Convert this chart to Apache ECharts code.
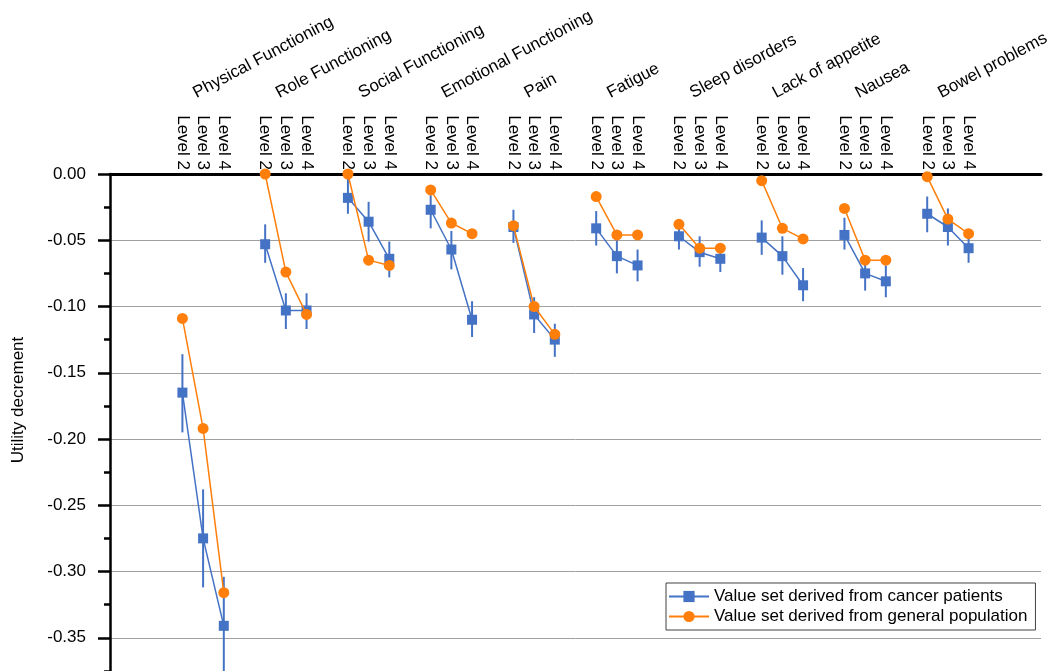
<!DOCTYPE html>
<html>
<head>
<meta charset="utf-8">
<script src="https://cdn.jsdelivr.net/npm/echarts@6/dist/echarts.min.js"></script>
<style>
  html, body { margin: 0; padding: 0; background: #fff; }
  #chart { width: 1049px; height: 671px; }
</style>
</head>
<body>
<div id="chart"></div>
<script>
// domains and levels
const groupNames = [
  "Physical Functioning", "Role Functioning", "Social Functioning",
  "Emotional Functioning", "Pain", "Fatigue", "Sleep disorders",
  "Lack of appetite", "Nausea", "Bowel problems"
];
const levelNames = ["Level 2", "Level 3", "Level 4"];

// value set derived from cancer patients (3 levels per domain)
const cancerMean = [
  -0.165, -0.275, -0.341,
  -0.053, -0.103, -0.103,
  -0.018, -0.036, -0.064,
  -0.027, -0.057, -0.110,
  -0.040, -0.106, -0.125,
  -0.041, -0.062, -0.069,
  -0.047, -0.059, -0.064,
  -0.048, -0.062, -0.084,
  -0.046, -0.075, -0.081,
  -0.030, -0.040, -0.056
];
const cancerLow = [
  -0.195, -0.312, -0.378,
  -0.067, -0.117, -0.117,
  -0.030, -0.051, -0.078,
  -0.041, -0.072, -0.123,
  -0.052, -0.120, -0.138,
  -0.054, -0.075, -0.081,
  -0.057, -0.070, -0.074,
  -0.061, -0.076, -0.096,
  -0.057, -0.088, -0.093,
  -0.044, -0.054, -0.067
];
const cancerHigh = [
  -0.136, -0.238, -0.304,
  -0.038, -0.090, -0.090,
  -0.002, -0.021, -0.051,
  -0.016, -0.043, -0.096,
  -0.027, -0.093, -0.113,
  -0.028, -0.050, -0.057,
  -0.038, -0.047, -0.056,
  -0.035, -0.047, -0.071,
  -0.033, -0.065, -0.069,
  -0.017, -0.026, -0.045
];
// value set derived from general population
const generalMean = [
  -0.109, -0.192, -0.316,
   0.000, -0.074, -0.106,
   0.000, -0.065, -0.069,
  -0.012, -0.037, -0.045,
  -0.039, -0.100, -0.121,
  -0.017, -0.046, -0.046,
  -0.038, -0.056, -0.056,
  -0.005, -0.041, -0.049,
  -0.026, -0.065, -0.065,
  -0.002, -0.034, -0.045
];

// category slots: 3 empty, then 3 levels + 1 gap per domain, 3 empty at the end
const nSlots = 3 + groupNames.length * 4 - 1 + 3;
function slotOf(g, l) { return 3 + g * 4 + l; }

let levelCats = [];
let groupCats = [];
let cancerData = [];
let generalData = [];
for (let i = 0; i < nSlots; i++) {
  levelCats.push("");
  groupCats.push("");
  cancerData.push(null);
  generalData.push(null);
}
let errData = [];
for (let g = 0; g < groupNames.length; g++) {
  groupCats[slotOf(g, 0)] = groupNames[g];
  for (let l = 0; l < 3; l++) {
    let s = slotOf(g, l);
    let k = g * 3 + l;
    levelCats[s] = levelNames[l];
    cancerData[s] = cancerMean[k];
    generalData[s] = generalMean[k];
    errData.push([s, cancerLow[k], cancerHigh[k]]);
  }
}

const blue = "#4472C4";
const orange = "#FF7F0A";
const font = "Liberation Sans, Arial, sans-serif";

let myChart = echarts.init(document.getElementById("chart"), null, { renderer: "canvas" });
myChart.setOption({
  animation: false,
  textStyle: { fontFamily: font, color: "#000" },
  grid: [
    { left: 110, right: 8, top: 174, height: 530, outerBoundsMode: "none", containLabel: false },
    { left: 122, right: -4, top: 174, height: 530, outerBoundsMode: "none", containLabel: false }
  ],
  legend: {
    orient: "vertical",
    left: 666,
    top: 583,
    padding: [5, 8, 5, 2],
    itemWidth: 40,
    itemHeight: 14,
    itemGap: 3,
    backgroundColor: "#fff",
    borderColor: "#404040",
    borderWidth: 1,
    textStyle: { fontSize: 17, color: "#000", fontFamily: font },
    data: ["Value set derived from cancer patients", "Value set derived from general population"]
  },
  xAxis: [
    {
      type: "category",
      gridIndex: 0,
      position: "top",
      data: levelCats,
      boundaryGap: true,
      axisLine: { onZero: false, lineStyle: { color: "#000", width: 3 } },
      axisTick: { show: false },
      axisLabel: { interval: 0, rotate: 90, margin: 4, fontSize: 17, color: "#000" },
      splitLine: { show: false }
    },
    {
      type: "category",
      gridIndex: 1,
      position: "top",
      data: groupCats,
      boundaryGap: true,
      axisLine: { show: false },
      axisTick: { show: false },
      axisLabel: { interval: 0, rotate: 28, margin: 80, fontSize: 17, color: "#000" },
      splitLine: { show: false }
    }
  ],
  yAxis: [
    {
      type: "value",
      gridIndex: 0,
      min: -0.4,
      max: 0,
      interval: 0.05,
      name: "Utility decrement",
      nameLocation: "middle",
      nameGap: 83,
      nameTextStyle: { fontSize: 17, color: "#000", padding: [0, 0, 0, 78] },
      axisLine: { show: true, lineStyle: { color: "#000", width: 2.5 } },
      axisTick: { show: true, length: 12, lineStyle: { color: "#000", width: 2.5 } },
      minorTick: { show: true, splitNumber: 2, length: 6, lineStyle: { color: "#000", width: 2.5 } },
      axisLabel: {
        fontSize: 17, color: "#000", margin: 24,
        formatter: function (v) { return v.toFixed(2); }
      },
      splitLine: { show: true, lineStyle: { color: "#A0A0A0", width: 1 } }
    },
    {
      type: "value",
      gridIndex: 1,
      min: -0.4,
      max: 0,
      show: false
    }
  ],
  series: [
    {
      name: "errors",
      type: "custom",
      xAxisIndex: 0,
      yAxisIndex: 0,
      z: 1,
      data: errData,
      renderItem: function (params, api) {
        let p1 = api.coord([api.value(0), api.value(1)]);
        let p2 = api.coord([api.value(0), api.value(2)]);
        return {
          type: "line",
          shape: { x1: p1[0], y1: p1[1], x2: p2[0], y2: p2[1] },
          style: { stroke: blue, lineWidth: 2 }
        };
      }
    },
    {
      name: "Value set derived from cancer patients",
      type: "line",
      xAxisIndex: 0,
      yAxisIndex: 0,
      z: 2,
      data: cancerData,
      symbol: "rect",
      symbolSize: 10,
      showAllSymbol: true,
      itemStyle: { color: blue },
      lineStyle: { color: blue, width: 1.5 }
    },
    {
      name: "Value set derived from general population",
      type: "line",
      xAxisIndex: 0,
      yAxisIndex: 0,
      z: 3,
      data: generalData,
      symbol: "circle",
      symbolSize: 11,
      showAllSymbol: true,
      itemStyle: { color: orange },
      lineStyle: { color: orange, width: 1.5 }
    }
  ]
});
</script>
</body>
</html>
